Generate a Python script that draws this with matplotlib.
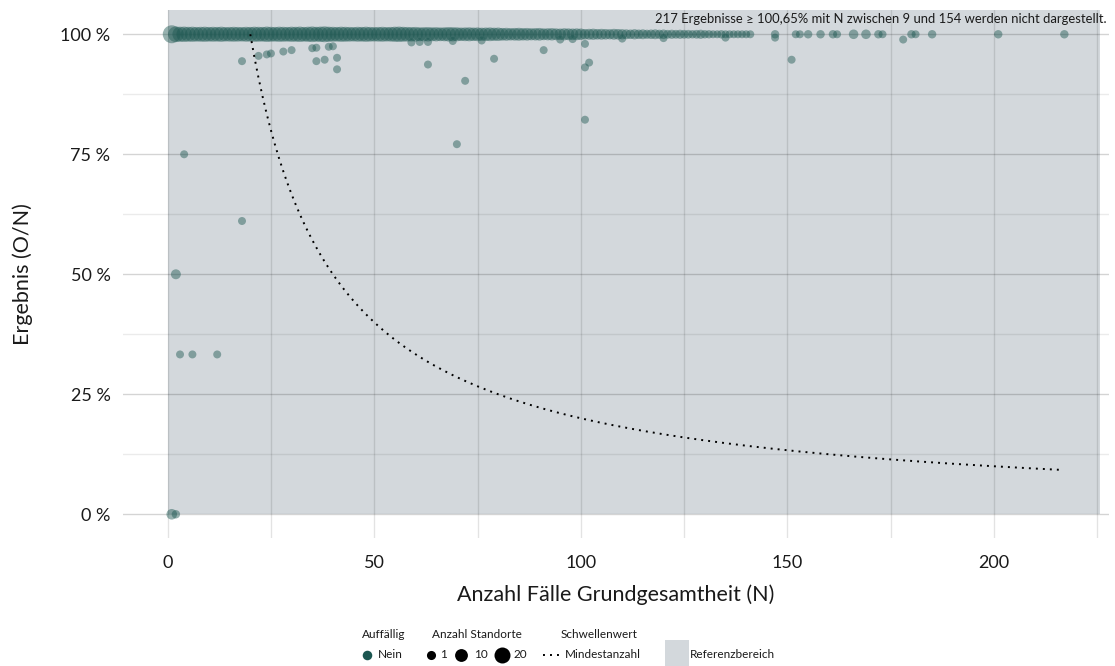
import numpy as np
import matplotlib
matplotlib.use("Agg")
import matplotlib.pyplot as plt
from matplotlib.patches import Rectangle
from matplotlib.lines import Line2D

plt.rcParams['font.family'] = ['Lato', 'DejaVu Sans']

# --- data -------------------------------------------------------------
# dense band at 100 %: N = 1..141, number of sites per point
band_n = list(range(1, 142))
band_cnt = [38,
            27, 25, 26, 24, 25, 23, 24, 25, 23,
            24, 23, 25, 22, 23, 24, 23, 22, 24, 23,
            25, 24, 23, 26, 24, 23, 25, 24, 23, 25,
            24, 26, 23, 25, 27, 24, 26, 28, 25, 24,
            23, 25, 24, 23, 22, 24, 23, 25, 23, 22,
            23, 24, 22, 23, 25, 26, 24, 23, 22, 23,
            20, 21, 22, 20, 21, 19, 20, 22, 21, 20,
            18, 19, 20, 18, 19, 17, 18, 19, 17, 18,
            15, 16, 14, 15, 16, 14, 15, 13, 14, 15,
            12, 13, 14, 12, 11, 13, 12, 11, 12, 11,
            8, 9, 10, 8, 9, 8, 7, 9, 8, 7,
            6, 5, 7, 5, 6, 4, 5, 6, 4, 5,
            3, 4, 3, 4, 3, 3, 2, 3, 4, 2,
            2, 1, 1, 2, 1, 1, 1, 1, 1, 1, 1]

# sparse points at 100 % beyond the band
tail_n = [147, 152, 153, 155, 158, 161, 162, 166, 169, 172, 173, 180, 181, 185, 201, 217]
tail_cnt = [2, 1, 1, 2, 2, 2, 1, 5, 5, 2, 1, 2, 1, 2, 2, 2]

# results below 100 %
low_n = [1, 2, 2, 4, 3, 6, 12, 18, 18, 22, 24, 25, 28, 30, 35, 36, 39, 40,
         36, 38, 41, 41, 59, 61, 63, 63, 69, 72, 70, 76, 79, 91, 95, 98,
         101, 101, 102, 101, 110, 120, 135, 147, 151, 178]
low_pct = [0, 0, 50, 75, 33.3, 33.3, 33.3, 61.1, 94.4, 95.5, 95.8, 96.0, 96.4, 96.7,
           97.1, 97.2, 97.4, 97.5, 94.4, 94.7, 95.1, 92.7, 98.3, 98.4, 98.4, 93.7,
           98.6, 90.3, 77.1, 98.7, 94.9, 96.7, 98.9, 99.0, 98.0, 93.1, 94.1, 82.2,
           99.1, 99.2, 99.3, 99.3, 94.7, 98.9]
low_cnt = [8, 2, 6] + [1] * 41

min_cases = 20           # Mindestanzahl threshold
ref_range = (0, 225.6)   # Referenzbereich on N

note = "217 Ergebnisse \u2265 100,65% mit N zwischen 9 und 154 werden nicht dargestellt."

# --- styling ----------------------------------------------------------
PT_COLOR = "#1b5650"
REF_COLOR = "#d3d8dc"
TXT = '#1a1a1a'


def size_of(c):
    return 33 + (np.asarray(c) - 1) * 3.63


fig = plt.figure(figsize=(11.15, 6.66), dpi=100)
ax = fig.add_axes([0.1103, 0.1922, 0.8843, 0.7928])

ax.add_patch(Rectangle((ref_range[0], 0), ref_range[1] - ref_range[0], 2,
                       facecolor=REF_COLOR, edgecolor='none', zorder=0))

for v in [0, 0.25, 0.5, 0.75, 1.0]:
    ax.axhline(v, color='k', alpha=0.17, lw=1.0, zorder=1)
for v in [0.125, 0.375, 0.625, 0.875]:
    ax.axhline(v, color='k', alpha=0.08, lw=1.0, zorder=1)
for v in [0, 25, 50, 75, 100, 125, 150, 175, 200, 225]:
    ax.axvline(v, color='k', alpha=0.11, lw=1.0, zorder=1)

ax.scatter(band_n, np.ones(len(band_n)), s=size_of(band_cnt),
           color=PT_COLOR, alpha=0.45, linewidths=0, zorder=3)
ax.scatter(tail_n, np.ones(len(tail_n)), s=size_of(tail_cnt),
           color=PT_COLOR, alpha=0.45, linewidths=0, zorder=3)
ax.scatter(low_n, np.array(low_pct) / 100, s=size_of(low_cnt),
           color=PT_COLOR, alpha=0.45, linewidths=0, zorder=3)

n_line = np.linspace(min_cases, 216.5, 400)
ax.plot(n_line, min_cases / n_line, color='k', lw=1.4,
        linestyle=(0, (1, 2.6)), zorder=4)

ax.set_xlim(-10.8, 227.8)
ax.set_ylim(-0.0494, 1.0506)
ax.set_xticks([0, 50, 100, 150, 200])
ax.set_yticks([0, 0.25, 0.5, 0.75, 1.0])
ax.set_yticklabels(["0 %", "25 %", "50 %", "75 %", "100 %"])
ax.tick_params(length=0, labelsize=13, colors=TXT)
ax.tick_params(axis='x', pad=12)
ax.tick_params(axis='y', pad=9)
for sp in ax.spines.values():
    sp.set_visible(False)
ax.set_xlabel("Anzahl Fälle Grundgesamtheit (N)", fontsize=15.5, color=TXT, labelpad=10)
ax.set_ylabel("Ergebnis (O/N)", fontsize=15.5, color=TXT, labelpad=20)

ax.text(0.998, 0.995, note, transform=ax.transAxes, ha='right', va='top',
        fontsize=9.4, color=TXT, zorder=5)

# --- legend (manual, pixel layout) -----------------------------------
lax = fig.add_axes([0, 0, 1, 1], zorder=10)
lax.set_xlim(0, 1115)
lax.set_ylim(666, 0)
lax.axis('off')

TS = 8.5
ty, iy = 634, 655
lax.text(362, ty, "Auffällig", fontsize=TS, va='center', ha='left', color=TXT)
lax.scatter([367], [iy], s=size_of(5), color=PT_COLOR, linewidths=0)
lax.text(378, iy, "Nein", fontsize=TS, va='center', ha='left', color=TXT)

lax.text(432, ty, "Anzahl Standorte", fontsize=TS, va='center', ha='left', color=TXT)
for x, c, tx in [(431, 1, 440), (461, 10, 474), (502, 20, 514)]:
    lax.scatter([x], [iy], s=size_of(c) * 1.3, color='k', linewidths=0)
    lax.text(tx, iy, str(c), fontsize=TS, va='center', ha='left', color=TXT)

lax.text(561, ty, "Schwellenwert", fontsize=TS, va='center', ha='left', color=TXT)
lax.add_line(Line2D([543, 563], [iy, iy], color='k', lw=1.4, linestyle=(0, (1, 2.6))))
lax.text(565, iy, "Mindestanzahl", fontsize=TS, va='center', ha='left', color=TXT)

lax.add_patch(Rectangle((665, 640), 24, 28, facecolor=REF_COLOR, edgecolor='none'))
lax.text(690, iy, "Referenzbereich", fontsize=TS, va='center', ha='left', color=TXT)

fig.savefig("out.png", dpi=100)
